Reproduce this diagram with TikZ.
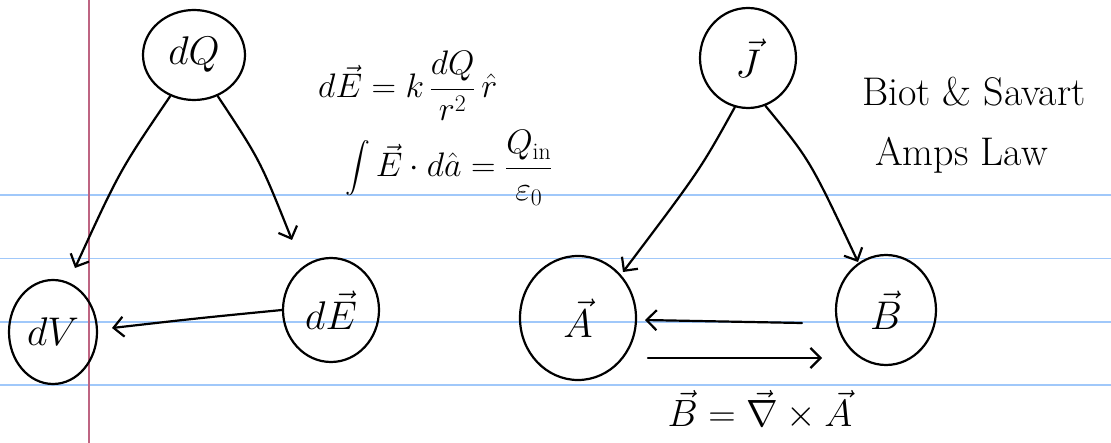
\RequirePackage{fix-cm}
\documentclass[tikz,border=0pt]{standalone}
\usepackage{amsmath}
\usepackage{fontspec}
\usetikzlibrary{shapes.geometric,arrows.meta}
\definecolor{ruleblue}{RGB}{160,200,250}
\definecolor{marginred}{RGB}{190,100,130}
\begin{document}
\begin{tikzpicture}[x=1pt,y=-1pt,
  bub/.style={draw, ellipse, line width=2.2pt, inner sep=0pt, font=\fontsize{40}{46}\selectfont},
  arr/.style={line width=2.2pt, line cap=round, -{Straight Barb[length=10pt,width=20pt,line width=2.2pt]}},
  eq/.style={font=\fontsize{34}{40}\selectfont, inner sep=0pt}]
\useasboundingbox (0,0) rectangle (1111,443);
\fill[white] (0,0) rectangle (1111,443);
\foreach \yy in {195,258.5,322,385}
  \draw[ruleblue, line width=1.4pt] (0,\yy) -- (1111,\yy);
\draw[marginred, line width=1.4pt] (89,0) -- (89,443);

% nodes
\node[bub, minimum width=102pt, minimum height=90pt] (dq) at (194,55) {$dQ$};
\node[bub, minimum width=88pt, minimum height=104pt] (dv) at (53,332) {$dV$};
\node[bub, minimum width=96pt, minimum height=104pt] (de) at (331,310) {$d\vec{E}$};
\node[bub, minimum width=96pt, minimum height=100pt] (j) at (748,58) {$\vec{J}$};
\node[bub, minimum width=116pt, minimum height=124pt] (a) at (578,318) {$\vec{A}$};
\node[bub, minimum width=100pt, minimum height=110pt] (b) at (886,310) {$\vec{B}$};

% connectors
\draw[arr] (dq.240) .. controls (120,170) .. (75,268);
\draw[arr] (dq.300) .. controls (260,160) .. (292,240);
\draw[arr] (de.west) .. controls (200,318) .. (112,328);
\draw[arr] (j.255) .. controls (700,170) .. (623,272);
\draw[arr] (j.290) .. controls (810,160) .. (858,262);
\draw[arr] (b.west) ++(-33,13) -- (645,320);
\draw[arr] (648,358) -- (822,358);

% texts
\node[eq, anchor=west] (eq1) at (318,86) {$d\vec{E} = k\,\dfrac{dQ}{r^{2}}\,\hat{r}$};
\node[eq, anchor=west] (eq2) at (345,168) {$\displaystyle\int \vec{E}\cdot d\hat{a} = \frac{Q_{\mathrm{in}}}{\varepsilon_0}$};
\node[eq, anchor=west, font=\fontsize{40}{46}\selectfont] (biot) at (862,92) {Biot \& Savart};
\node[eq, anchor=west, font=\fontsize{40}{46}\selectfont] (amp) at (875,155) {Amps Law};
\node[eq, font=\fontsize{38}{44}\selectfont] (curl) at (760,410) {$\vec{B} = \vec{\nabla}\times\vec{A}$};
\end{tikzpicture}
\end{document}
